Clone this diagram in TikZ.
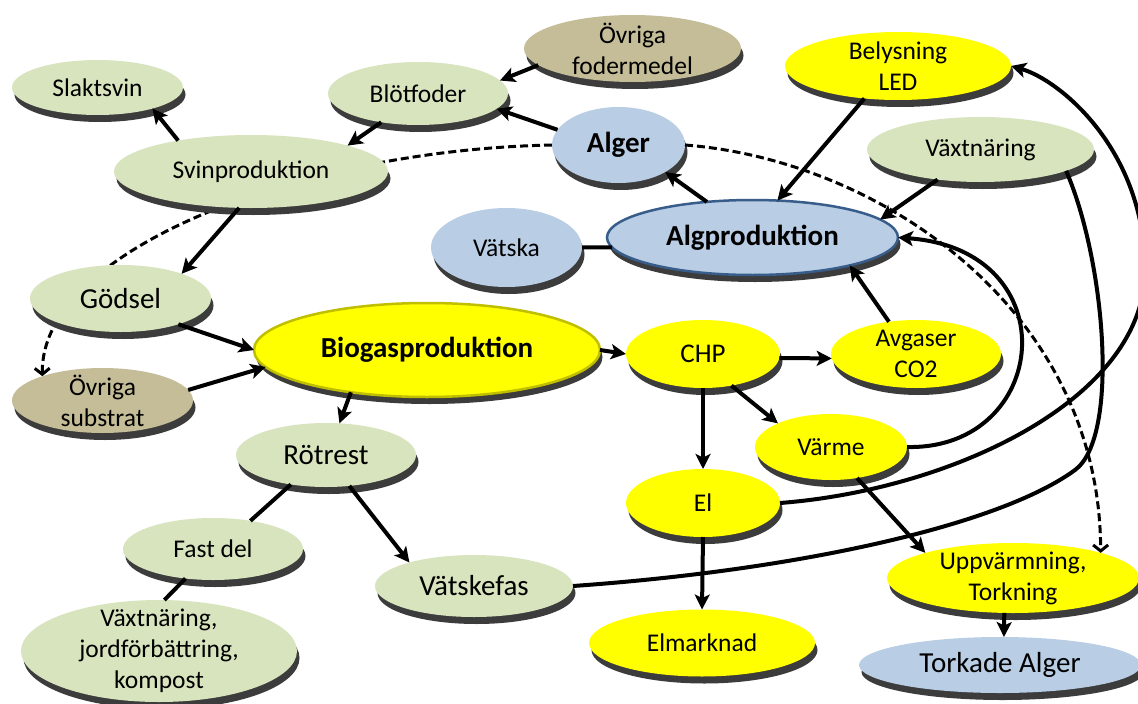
\documentclass[tikz,border=0pt]{standalone}
\usepackage{fontspec}
\setmainfont{Carlito}
\usetikzlibrary{shapes.geometric,arrows.meta,shadows,backgrounds}

\definecolor{leaf}{HTML}{D7E4BD}
\definecolor{khaki}{HTML}{C4BD97}
\definecolor{sky}{HTML}{B9CDE5}
\definecolor{sun}{HTML}{FFFF00}
\definecolor{shade}{HTML}{3C3C3C}
\definecolor{navyedge}{HTML}{385D8A}
\definecolor{oliveedge}{HTML}{BFBF00}

\begin{document}
\begin{tikzpicture}[x=1pt, y=-1pt,
  bub/.style={ellipse, inner sep=0pt, outer sep=0pt,
    drop shadow={shadow xshift=2.5pt, shadow yshift=-7pt, fill=shade, opacity=1}},
  gbub/.style={bub, fill=leaf},
  tbub/.style={bub, fill=khaki},
  bbub/.style={bub, fill=sky},
  ybub/.style={bub, fill=sun},
  txt/.style={inner sep=0pt, align=center, font=\fontsize{25.5}{31}\selectfont},
  bigtxt/.style={txt, font=\fontsize{29}{34}\selectfont},
  boldtxt/.style={txt, font=\bfseries\fontsize{29}{34}\selectfont},
  arr/.style={line width=4pt, -{Stealth[length=15pt,width=15pt,inset=3.5pt]}},
  link/.style={line width=4pt},
  darr/.style={line width=3pt, dash pattern=on 8pt off 4pt,
    -{Straight Barb[length=6pt,width=15pt]}}
]
\useasboundingbox (0,0) rectangle (1138,704);

% ---------- pig farming side ----------
\node[gbub, minimum width=171pt, minimum height=55pt, label={[txt]center:Slaktsvin}] (slakt) at (97.5,87.5) {};
\node[gbub, minimum width=180pt, minimum height=63pt, label={[txt]center:Blötfoder}] (blot) at (418,93.5) {};
\node[tbub, minimum width=217pt, minimum height=67pt, label={[txt]center:{Övriga\\fodermedel}}] (ovf) at (632.5,48.5) {};
\node[gbub, minimum width=274pt, minimum height=73pt, label={[txt]center:Svinproduktion}] (svin) at (251,171.5) {};
\node[gbub, minimum width=181pt, minimum height=67pt, label={[bigtxt]center:Gödsel}] (godsel) at (120.5,298.5) {};
\node[tbub, minimum width=181pt, minimum height=65pt, label={[txt]center:{Övriga\\substrat}}] (ovs) at (102.5,400.5) {};

% ---------- algae side ----------
\node[bbub, minimum width=133pt, minimum height=76pt, label={[boldtxt]center:Alger}] (alger) at (618.5,145) {};
\node[ybub, minimum width=226pt, minimum height=68pt, label={[txt]center:{Belysning\\LED}}] (bel) at (898,66) {};
\node[gbub, minimum width=227pt, minimum height=65pt, label={[txt]center:Växtnäring}] (vaxt) at (980.5,149.5) {};
\node[bbub, draw=navyedge, line width=2.5pt, minimum width=291pt, minimum height=75pt, label={[boldtxt]center:Algproduktion}] (algp) at (752.5,237.5) {};
\node[bbub, minimum width=151pt, minimum height=79pt, label={[txt]center:Vätska}] (vatska) at (506.5,247.5) {};

% ---------- biogas plant ----------
\node[ybub, draw=oliveedge, line width=2.5pt, minimum width=346pt, minimum height=94pt, label={[boldtxt]center:Biogasproduktion}] (biogas) at (427,350) {};
\node[ybub, minimum width=154pt, minimum height=68pt, label={[txt, font=\fontsize{27}{31}\selectfont]center:CHP}] (chp) at (703,354) {};
\node[ybub, minimum width=170pt, minimum height=68pt, label={[txt]center:{Avgaser\\CO2}}] (avg) at (916,354) {};
\node[ybub, minimum width=152pt, minimum height=66pt, label={[txt]center:Värme}] (varme) at (831,447) {};
\node[ybub, minimum width=154pt, minimum height=68pt, label={[txt]center:El}] (el) at (703,503) {};
\node[ybub, minimum width=226pt, minimum height=67pt, label={[txt]center:Elmarknad}] (elm) at (702,643) {};
\node[ybub, minimum width=252pt, minimum height=70pt, label={[txt]center:{Uppvärmning,\\Torkning}}] (upp) at (1013,578) {};
\node[bbub, minimum width=282pt, minimum height=56pt, label={[bigtxt]center:Torkade Alger}] (tork) at (1000,665) {};

% ---------- digestate ----------
\node[gbub, minimum width=180pt, minimum height=64pt, label={[bigtxt]center:Rötrest}] (rotrest) at (326,455) {};
\node[gbub, minimum width=180pt, minimum height=62pt, label={[txt]center:Fast del}] (fast) at (213,549) {};
\node[gbub, minimum width=198pt, minimum height=62pt, label={[bigtxt]center:Vätskefas}] (vfas) at (474,586) {};
\node[gbub, minimum width=276pt, minimum height=102pt, label={[txt]center:{Växtnäring,\\jordförbättring,\\kompost}}] (vxt2) at (159,651) {};

% ---------- hidden feed-back line running behind the bubbles ----------
\begin{scope}[on background layer]
  \fill[white] (0,0) rectangle (1138,704);
  \draw[darr] (alger.west) .. controls (300,150) and (40,250) .. (ovs.158);
\end{scope}

% ---------- straight connectors ----------
\draw[arr] (svin.157) -- (slakt.-21);
\draw[arr] (blot.-142) -- (svin.15);
\draw[arr] (ovf.-170) -- (blot.9);
\draw[arr] (alger.166) -- (blot.-11);
\draw[arr] (algp.142) -- (alger.-30);
\draw[arr] (bel.-136) -- (algp.56);
\draw[arr] (vaxt.-145) -- (algp.8);
\draw[link] (vatska.east) -- (algp.184);
\draw[arr] (avg.130) -- (algp.-16);
\draw[arr] (biogas.east) -- (chp.west);
\draw[arr] (chp.-3) -- (avg.183);
\draw[arr] (chp.-48) -- (varme.156);
\draw[arr] (chp.south) -- (el.north);
\draw[arr] (el.south) -- (elm.north);
\draw[arr] (varme.-50) -- (upp.164);
\draw[arr] (upp.-104) -- (tork.82);
\draw[arr] (svin.-108) -- (godsel.22);
\draw[arr] (godsel.-24) -- (biogas.west);
\draw[arr] (ovs.7) -- (biogas.186);
\draw[arr] (biogas.-151) -- (rotrest.67);
\draw[link] (rotrest.-140) -- (fast.37);
\draw[link] (fast.-133) -- (vxt2.84);
\draw[arr] (rotrest.-53) -- (vfas.160);

% ---------- curved connectors ----------
\draw[darr] (alger.east) .. controls (880,160) and (1100,310) .. (upp.16);
\draw[arr] (varme.east) .. controls (1050,450) and (1070,250) .. (algp.east);
\draw[arr] (el.east) .. controls (950,490) and (1145,400) .. (1145,270)
  .. controls (1145,150) and (1060,80) .. (bel.east);
\draw[link] (vfas.east) .. controls (800,570) and (1000,525) .. (1075,470)
  .. controls (1120,437) and (1105,260) .. (vaxt.-14);
\end{tikzpicture}
\end{document}
